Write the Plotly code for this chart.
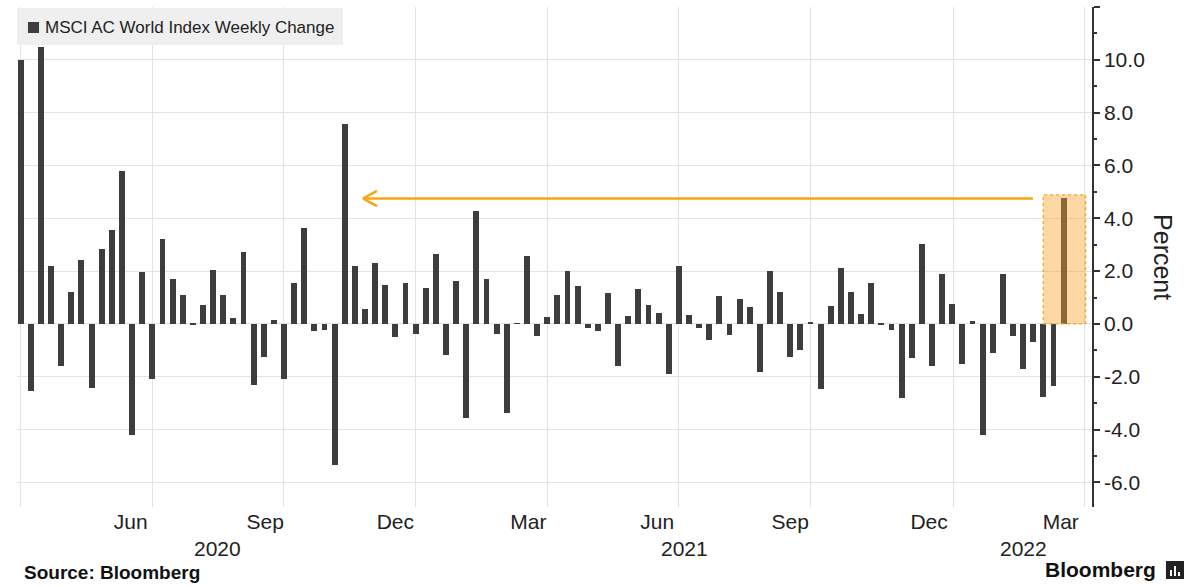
import pandas as pd
import plotly.graph_objects as go

# ---- data ----
first_week = "2020-03-27"
weekly_change = [
    10.0, -2.55, 10.49, 2.18, -1.60, 1.21, 2.41, -2.42, 2.82, 3.56,
    5.81, -4.19, 1.97, -2.08, 3.22, 1.70, 1.11, -0.04, 0.72, 2.05,
    1.09, 0.24, 2.71, -2.32, -1.26, 0.14, -2.08, 1.55, 3.62, -0.27,
    -0.23, -5.33, 7.56, 2.18, 0.57, 2.30, 1.48, -0.51, 1.55, -0.37,
    1.36, 2.66, -1.16, 1.63, -3.55, 4.27, 1.70, -0.37, -3.37, 0.03,
    2.56, -0.45, 0.27, 1.11, 2.00, 1.45, -0.16, -0.28, 1.17, -1.58,
    0.29, 1.34, 0.71, 0.43, -1.89, 2.21, 0.34, -0.14, -0.61, 1.07,
    -0.40, 0.93, 0.63, -1.83, 2.00, 1.22, -1.25, -0.97, 0.06, -2.45,
    0.67, 2.11, 1.21, 0.37, 1.55, -0.03, -0.24, -2.80, -1.29, 3.04,
    -1.58, 1.89, 0.76, -1.52, 0.11, -4.20, -1.10, 1.89, -0.47, -1.69,
    -0.69, -2.76, -2.36, 4.75,
]
weeks = pd.date_range(first_week, periods=len(weekly_change), freq="W-FRI")

month_tick_dates = ["2020-06-11", "2020-09-12", "2020-12-11", "2021-03-13",
                    "2021-06-10", "2021-09-10", "2021-12-15", "2022-03-16"]
month_tick_text = ["Jun", "Sep", "Dec", "Mar", "Jun", "Sep", "Dec", "Mar"]
grid_dates = ["2020-03-27", "2020-06-26", "2020-09-25", "2020-12-25", "2021-03-26",
              "2021-06-25", "2021-09-24", "2022-01-01", "2022-04-01T17:00"]
year_dates = ["2020-08-10", "2021-06-29", "2022-02-18"]
year_text = ["2020", "2021", "2022"]
y_tickvals = [-6, -4, -2, 0, 2, 4, 6, 8, 10, 12]
y_ticktext = ["-6.0", "-4.0", "-2.0", "0.0", "2.0", "4.0", "6.0", "8.0", "10.0", ""]

BAR = "#3d3d3d"
ORANGE = "#f3a712"
FONT = "Liberation Sans, Arial, sans-serif"
TXT = "#222222"

fig = go.Figure()
fig.add_trace(go.Bar(
    x=weeks, y=weekly_change, marker_color=BAR, marker_line_width=0,
    width=4.1 * 86400000, name="MSCI AC World Index Weekly Change",
    showlegend=False,
))

last_val = weekly_change[-1]
peak_week = weeks[32]

# highlight box around latest week
fig.add_shape(type="rect", xref="x", yref="y",
              x0=weeks[-3] - pd.Timedelta(hours=2), x1="2022-04-02T05:00",
              y0=0, y1=last_val + 0.14,
              fillcolor="rgba(250,163,40,0.42)",
              line=dict(color="#f5a623", width=1.3, dash="dot"), layer="above")

# arrow back to the Nov-2020 week
tip = peak_week + pd.Timedelta(days=12, hours=14)
arm = tip + pd.Timedelta(days=9, hours=18)
fig.add_shape(type="line", xref="x", yref="y", x0=tip, x1="2022-02-24T19:00",
              y0=last_val, y1=last_val, line=dict(color=ORANGE, width=2.5), layer="above")
fig.add_shape(type="line", xref="x", yref="y", x0=tip, x1=arm,
              y0=last_val, y1=last_val + 0.29, line=dict(color=ORANGE, width=2.5), layer="above")
fig.add_shape(type="line", xref="x", yref="y", x0=tip, x1=arm,
              y0=last_val, y1=last_val - 0.29, line=dict(color=ORANGE, width=2.5), layer="above")

# legend box (drawn manually)
fig.add_shape(type="rect", xref="paper", yref="paper", x0=0, x1=0.3033,
              y0=0.924, y1=0.998, fillcolor="#efefef", line_width=0, layer="above")
fig.add_shape(type="rect", xref="paper", yref="paper", x0=0.0102, x1=0.0205,
              y0=0.948, y1=0.970, fillcolor=BAR, line_width=0, layer="above")
fig.add_annotation(text="MSCI AC World Index Weekly Change", xref="paper", yref="paper",
                   x=0.0242, y=0.959, xanchor="left", yanchor="middle", showarrow=False,
                   font=dict(family=FONT, size=17, color=TXT))

# year labels
for d, t in zip(year_dates, year_text):
    fig.add_annotation(text=t, x=d, xref="x", y=-0.082, yref="paper", showarrow=False,
                       xanchor="center", yanchor="middle",
                       font=dict(family=FONT, size=21, color=TXT))

# axis title on the right
fig.add_annotation(text="Percent", xref="paper", yref="paper", x=1.066, y=0.5,
                   textangle=90, showarrow=False, xanchor="center", yanchor="middle",
                   font=dict(family=FONT, size=25, color=TXT))

# source / brand
fig.add_annotation(text="<b>Source: Bloomberg</b>", xref="paper", yref="paper",
                   x=0.0047, y=-0.13, xanchor="left", yanchor="middle", showarrow=False,
                   font=dict(family=FONT, size=19, color="#111111"))
fig.add_annotation(text="<b>Bloomberg</b>", xref="paper", yref="paper",
                   x=1.0614, y=-0.124, xanchor="right", yanchor="middle", showarrow=False,
                   font=dict(family=FONT, size=21, color="#111111"))
fig.add_shape(type="rect", xref="paper", yref="paper", x0=1.0688, x1=1.0856,
              y0=-0.144, y1=-0.108, fillcolor="#222222", line_width=0)
for bx0, bx1, by1 in [(1.0726, 1.0744, -0.126), (1.0763, 1.0781, -0.118), (1.0800, 1.0819, -0.130)]:
    fig.add_shape(type="rect", xref="paper", yref="paper", x0=bx0, x1=bx1,
                  y0=-0.138, y1=by1, fillcolor="white", line_width=0)

fig.update_layout(
    width=1200, height=587,
    margin=dict(l=17, r=108, t=7, b=80),
    paper_bgcolor="white", plot_bgcolor="white",
    bargap=0,
    xaxis=dict(
        type="date",
        range=["2020-03-24T10:30", "2022-04-06T14:30"],
        tickmode="array", tickvals=month_tick_dates, ticktext=month_tick_text,
        showgrid=False, ticks="", showline=False, zeroline=False,
        tickfont=dict(family=FONT, size=21, color=TXT),
        minor=dict(tickmode="array", tickvals=grid_dates, showgrid=True,
                   gridcolor="#e3e3e3", gridwidth=1, ticks=""),
    ),
    yaxis=dict(
        side="right", range=[-6.93, 12.0],
        tickmode="array", tickvals=y_tickvals, ticktext=y_ticktext,
        showgrid=True, gridcolor="#e3e3e3", gridwidth=1, zeroline=False,
        showline=True, linecolor="#333333", linewidth=1.5,
        ticks="outside", ticklen=6, tickwidth=1.5, tickcolor="#333333",
        tickfont=dict(family=FONT, size=21, color=TXT),
        minor=dict(tickmode="array", tickvals=[-5, -3, -1, 1, 3, 5, 7, 9, 11],
                   ticks="outside", ticklen=3, tickcolor="#333333", showgrid=False),
    ),
)

fig.write_html("out.html", config={"displayModeBar": False},
               post_script="document.body.style.margin='0px';document.body.style.overflow='hidden';")
